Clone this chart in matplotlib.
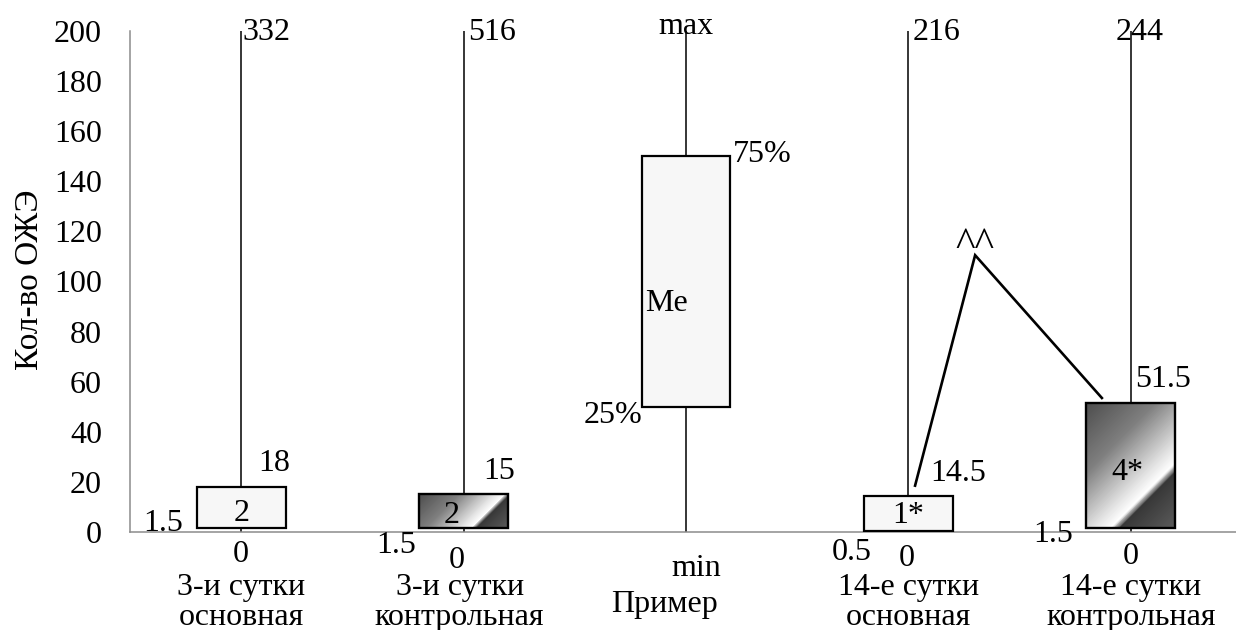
import numpy as np
import matplotlib
matplotlib.use("Agg")
import matplotlib.pyplot as plt
from matplotlib.patches import Rectangle
from matplotlib.colors import LinearSegmentedColormap

plt.rcParams['font.family'] = ['Liberation Serif', 'DejaVu Serif']

# ---- data ----
categories = ['3-и сутки\nосновная', '3-и сутки\nконтрольная', 'Пример',
              '14-е сутки\nосновная', '14-е сутки\nконтрольная']
q1 = [1.5, 1.5, 50, 0.5, 1.5]
q3 = [18, 15, 150, 14.5, 51.5]
vmin = [0, 0, 0, 0, 0]
vmax = [332, 516, 200, 216, 244]
max_labels = ['332', '516', 'max', '216', '244']
q3_labels = ['18', '15', '75%', '14.5', '51.5']
q1_labels = ['1.5', '1.5', '25%', '0.5', '1.5']
med_labels = ['2', '2', 'Me', '1*', '4*']
min_labels = ['0', '0', 'min', '0', '0']
gradient_fill = [False, True, False, False, True]
bracket_x = [3.03, 3.30, 3.87]
bracket_y = [18.5, 110.5, 53.5]
bracket_label = '^^'
yticks = list(range(0, 201, 20))

# label offsets in pixels (dx, dy-up) of glyph centres
off_max = [(25, 3), (28, 2), (0, 8), (28, 2), (9, 2)]
off_q3 = [(33, 27), (36, 27), (76, 6), (50, 26), (32, 27)]
off_q1 = [(-78, 9), (-67, -13), (-73, -5), (-57, -18), (-78, -2)]
off_med = [(0, -2), (-12, 0), (-19, -18), (0, 2), (-3, -3)]
off_min = [(0, -18), (-7, -24), (10, -33), (-2, -22), (0, -21)]
cat_dx = [0, -4, -21, 0, 0]

W, H = 1236, 630
fig = plt.figure(figsize=(W / 100, H / 100), dpi=100)
ax = fig.add_axes([130 / W, 98 / H, 1112 / W, 501 / H])
ax.set_xlim(-0.5, 4.5)
ax.set_ylim(0, 200)

FS = 23
PX = 72 / 100  # points per pixel
GLY = -4  # shift from glyph centre to text-box centre (px)

cmap = LinearSegmentedColormap.from_list('chrome', [
    (0.0, (0.30, 0.30, 0.30)),
    (0.33, (0.50, 0.50, 0.50)),
    (0.62, (0.90, 0.90, 0.90)),
    (0.70, (1.0, 1.0, 1.0)),
    (0.745, (0.22, 0.22, 0.22)),
    (1.0, (0.36, 0.36, 0.36)),
])

bw = 0.4
for i in range(len(categories)):
    ax.plot([i, i], [q3[i], vmax[i]], color='black', lw=1.1, zorder=1, clip_on=True)
    ax.plot([i, i], [vmin[i], q1[i]], color='black', lw=1.1, zorder=1, clip_on=True)
    x0, x1 = i - bw / 2, i + bw / 2
    if gradient_fill[i]:
        p0 = ax.transData.transform((x0, q1[i]))
        p1 = ax.transData.transform((x1, q3[i]))
        w = max(int(round(p1[0] - p0[0])), 2)
        h = max(int(round(p1[1] - p0[1])), 2)
        X, Y = np.meshgrid(np.arange(w) + 0.5, np.arange(h) + 0.5)
        t = (X - Y + h) / (w + h)
        ax.imshow(cmap(t), extent=(x0, x1, q1[i], q3[i]), origin='lower',
                  aspect='auto', zorder=2, interpolation='bilinear')
        ax.add_patch(Rectangle((x0, q1[i]), bw, q3[i] - q1[i], facecolor='none',
                               edgecolor='black', lw=1.7, zorder=3))
    else:
        ax.add_patch(Rectangle((x0, q1[i]), bw, q3[i] - q1[i], facecolor='#f7f7f7',
                               edgecolor='black', lw=1.6, zorder=3))

    def lab(text, y, off):
        ax.annotate(text, xy=(i, y), xytext=(off[0] * PX, (off[1] + GLY) * PX),
                    textcoords='offset points', ha='center', va='center',
                    fontsize=FS, zorder=5, annotation_clip=False)

    lab(max_labels[i], min(vmax[i], 200), off_max[i])
    lab(q3_labels[i], q3[i], off_q3[i])
    lab(q1_labels[i], q1[i], off_q1[i])
    lab(med_labels[i], (q1[i] + q3[i]) / 2, off_med[i])
    lab(min_labels[i], vmin[i], off_min[i])

ax.set_xlim(-0.5, 4.5)
ax.set_ylim(0, 200)

# bracket
ax.plot(bracket_x, bracket_y, color='black', lw=1.9, zorder=4, solid_joinstyle='miter')
ax.annotate(bracket_label, xy=(bracket_x[1], bracket_y[1]), xytext=(0, 9 * PX),
            textcoords='offset points', ha='center', va='center', fontsize=30)

# category labels (two lines, separate baselines)
for i, c in enumerate(categories):
    lines = c.split('\n')
    if len(lines) == 1:
        base = [-80]
    else:
        base = [-63, -93]
    for ln, b in zip(lines, base):
        ax.annotate(ln, xy=(i, 0), xytext=(cat_dx[i] * PX, b * PX),
                    textcoords='offset points', ha='center', va='baseline',
                    fontsize=FS, annotation_clip=False)

ax.set_xticks([])
ax.set_yticks(yticks)
ax.set_yticklabels([str(v) for v in yticks], fontsize=FS)
ax.tick_params(axis='y', length=0, pad=28 * PX)
for s in ['top', 'right']:
    ax.spines[s].set_visible(False)
for s in ['left', 'bottom']:
    ax.spines[s].set_color('#8c8c8c')
    ax.spines[s].set_linewidth(1.1)

fig.text(30 / W, 1 - 280 / H, 'Кол-во ОЖЭ', rotation=90, ha='center', va='center',
         fontsize=24)

fig.savefig('out.png', dpi=100)
